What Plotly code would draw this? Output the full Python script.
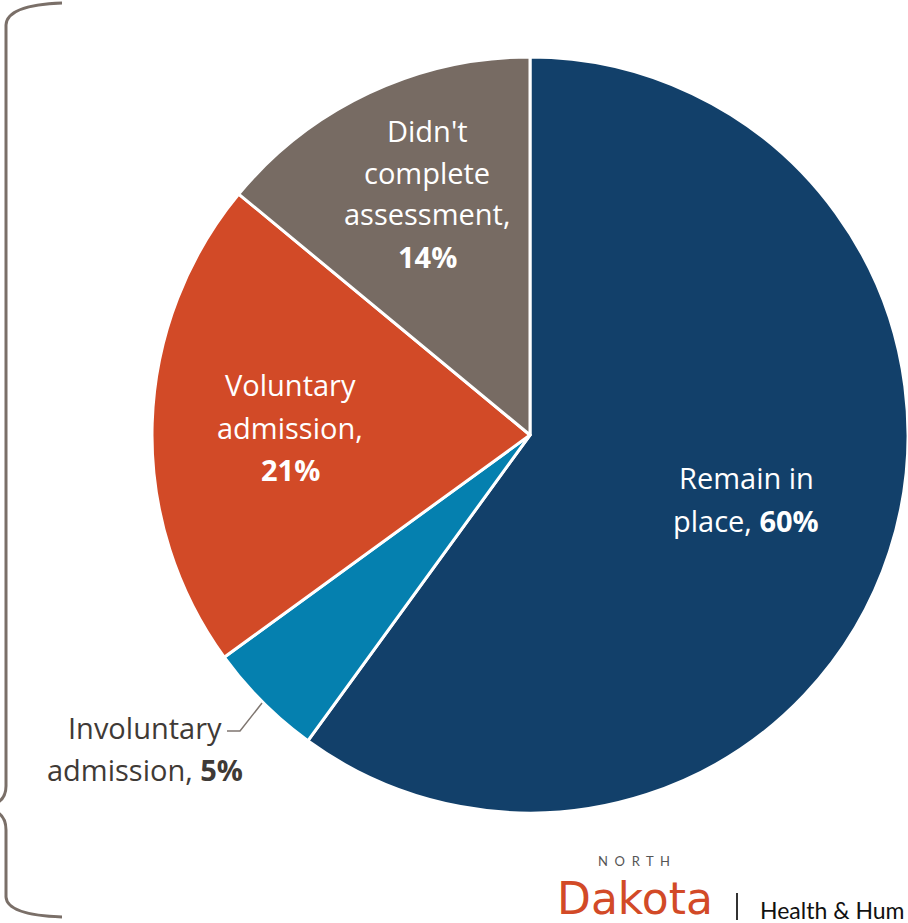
import plotly.graph_objects as go

# Outcome shares (percent)
labels = ["Remain in place", "Involuntary admission", "Voluntary admission", "Didn't complete assessment"]
values = [60, 5, 21, 14]
colors = ["#12406A", "#0580AF", "#D24A27", "#776B63"]
# Wrapped label text, one list of lines per slice
label_lines = [
    ["Remain in", "place,"],
    ["Involuntary", "admission,"],
    ["Voluntary", "admission,"],
    ["Didn't", "complete", "assessment,"],
]
# whether the percentage shares the last line of its label
pct_inline = [True, True, False, False]

W, H = 908, 923


def px(x, y):
    return x / W, 1 - y / H


fig = go.Figure()
fig.add_trace(go.Pie(
    labels=labels,
    values=values,
    sort=False,
    direction="clockwise",
    rotation=0,
    marker=dict(colors=colors, line=dict(color="white", width=3)),
    textinfo="none",
    hoverinfo="label+percent",
    domain=dict(x=[152 / W, 1.0], y=[1 - 813 / H, 1 - 57 / H]),
    showlegend=False,
))

annotations = []
# label block anchors: (center x, first line center y, text colour)
blocks = [
    (746, 478, "white"),
    (145, 727, "#3F3A36"),
    (290, 385, "white"),
    (427, 130, "white"),
]
LINE = 42
for lines, v, inline, (cx, cy, col) in zip(label_lines, values, pct_inline, blocks):
    rows = list(lines)
    pct = f"<b>{v}%</b>"
    if inline:
        rows[-1] = rows[-1] + " " + pct
    else:
        rows.append(pct)
    for i, r in enumerate(rows):
        x, y = px(cx, cy + i * LINE)
        annotations.append(dict(
            x=x, y=y, xref="paper", yref="paper", text=r, showarrow=False,
            xanchor="center", yanchor="middle",
            font=dict(family="Open Sans", size=29, color=col),
        ))

# leader line for the small slice label
shapes = []
p1, p2, p3 = px(227, 731), px(240, 731), px(262, 703)
shapes.append(dict(
    type="path", xref="paper", yref="paper",
    path=f"M {p1[0]},{p1[1]} L {p2[0]},{p2[1]} L {p3[0]},{p3[1]}",
    line=dict(color="#7F7670", width=1.5),
))


def path_pts(cmds):
    out = []
    for c, pts in cmds:
        coords = " ".join(f"{px(a, b)[0]},{px(a, b)[1]}" for a, b in pts)
        out.append(f"{c} {coords}")
    return " ".join(out)


# curly brace along the left edge
brace_col = "#7A6F68"
upper = path_pts([("M", [(62, 3)]), ("Q", [(7, 5), (6, 25)]), ("L", [(6, 786)]),
                  ("Q", [(6, 798), (-3, 803)])])
lower = path_pts([("M", [(-3, 812)]), ("Q", [(6, 817), (6, 830)]), ("L", [(6, 897)]),
                  ("Q", [(7, 915), (62, 917)])])
for pth in (upper, lower):
    shapes.append(dict(type="path", xref="paper", yref="paper", path=pth,
                       line=dict(color=brace_col, width=3)))

# logo block at the bottom
nx, ny = px(634, 861)
annotations.append(dict(x=nx, y=ny, xref="paper", yref="paper", text="N  O  R  T  H",
                        showarrow=False, xanchor="center", yanchor="middle",
                        font=dict(family="Lato", size=13, color="#555555")))
dx, dy = px(555, 926)
annotations.append(dict(x=dx, y=dy, xref="paper", yref="paper", text="Dakota",
                        showarrow=False, xanchor="left", yanchor="bottom",
                        font=dict(family="DejaVu Sans", size=44, color="#D24A27")))
b1, b2 = px(737, 893), px(737, 920)
shapes.append(dict(type="line", xref="paper", yref="paper", x0=b1[0], y0=b1[1],
                   x1=b2[0], y1=b2[1], line=dict(color="#333333", width=2)))
hx, hy = px(758, 910)
annotations.append(dict(x=hx, y=hy, xref="paper", yref="paper", text="Health & Hum",
                        showarrow=False, xanchor="left", yanchor="middle",
                        font=dict(family="Lato", size=23, color="#111111")))

fig.update_layout(
    width=W, height=H,
    margin=dict(l=0, r=0, t=0, b=0),
    paper_bgcolor="white", plot_bgcolor="white",
    annotations=annotations, shapes=shapes,
)

fig.write_html("out.html")
